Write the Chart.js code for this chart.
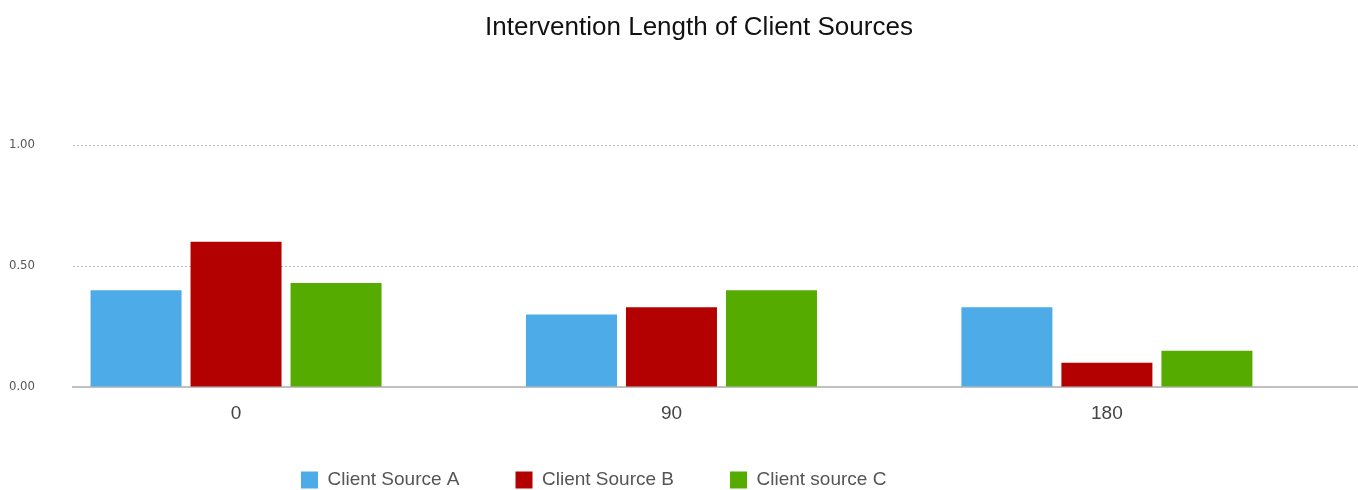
<!DOCTYPE html>
<html>
<head>
<meta charset="utf-8">
<title>Intervention Length of Client Sources</title>
<script src="https://cdn.jsdelivr.net/npm/chart.js@4/dist/chart.umd.min.js"></script>
<style>
  html, body { margin: 0; padding: 0; background: #fff; }
  #wrap { width: 1358px; height: 490px; position: relative; }
</style>
</head>
<body>
<div id="wrap"><canvas id="chart"></canvas></div>
<script>
// intervention length in days
const days = [0, 90, 180];
const sourceNames = ['Client Source A', 'Client Source B', 'Client source C'];
const sourceA = [0.40, 0.30, 0.33];
const sourceB = [0.60, 0.33, 0.10];
const sourceC = [0.43, 0.40, 0.15];
const yTicks = [0, 0.5, 1];
const colors = ['#4dabe7', '#b30000', '#55ab00'];

const sansFont = "'Liberation Sans', Arial, sans-serif";
const narrowFont = "'Liberation Sans Narrow', 'DejaVu Sans Condensed', sans-serif";

function toPoints(values) {
	return values.map((v, i) => ({ x: days[i], y: v }));
}

// legend row sits left of centre and close to the bottom edge,
// title a little right of the canvas centre
const boxNudge = {
	id: 'boxNudge',
	afterLayout(chart) {
		chart.legend.left = 245;
		chart.legend.top = 414.5;
		chart.titleBlock.left += 20;
		chart.titleBlock.right += 20;
	}
};

var ctx = document.getElementById('chart');
var chart = new Chart(ctx, {
	type: 'bar',
	data: {
		datasets: [sourceA, sourceB, sourceC].map((values, i) => ({
			label: sourceNames[i],
			data: toPoints(values),
			backgroundColor: colors[i],
			borderWidth: 0,
			categoryPercentage: 0.689,
			barPercentage: 0.91,
		}))
	},
	options: {
		responsive: true,
		maintainAspectRatio: false,
		animation: false,
		layout: { padding: { top: 0, left: 0, right: 0, bottom: -35 } },
		plugins: {
			title: {
				display: true,
				text: 'Intervention Length of Client Sources',
				color: '#111',
				font: { family: sansFont, size: 26, weight: 'normal' },
				padding: { top: 12, bottom: 101.8 }
			},
			legend: {
				position: 'bottom',
				align: 'start',
				labels: {
					boxWidth: 17,
					boxHeight: 17,
					padding: 56,
					color: '#555',
					font: { family: sansFont, size: 19 }
				}
			},
			tooltip: { enabled: false }
		},
		scales: {
			x: {
				type: 'linear',
				min: -33.7,
				max: 231.9,
				offset: false,
				grid: { display: false, drawTicks: false },
				border: { display: true, color: '#c0c0c0', width: 2 },
				afterBuildTicks: (scale) => {
					scale.ticks = days.map(v => ({ value: v }));
				},
				ticks: {
					padding: 15.1,
					color: '#444',
					font: { family: sansFont, size: 19 },
					callback: (v) => String(v)
				}
			},
			y: {
				min: 0,
				max: 1,
				grid: { color: '#b5b5b5', lineWidth: 1, drawTicks: false },
				border: { display: false, dash: [2, 2] },
				afterBuildTicks: (scale) => {
					scale.ticks = yTicks.map(v => ({ value: v }));
				},
				afterFit: (scale) => {
					scale.width = 73;
				},
				ticks: {
					padding: 38,
					color: '#555',
					font: { family: narrowFont, size: 13 },
					callback: (v) => Number(v).toFixed(2)
				}
			}
		}
	},
	plugins: [boxNudge]
});
</script>
</body>
</html>
